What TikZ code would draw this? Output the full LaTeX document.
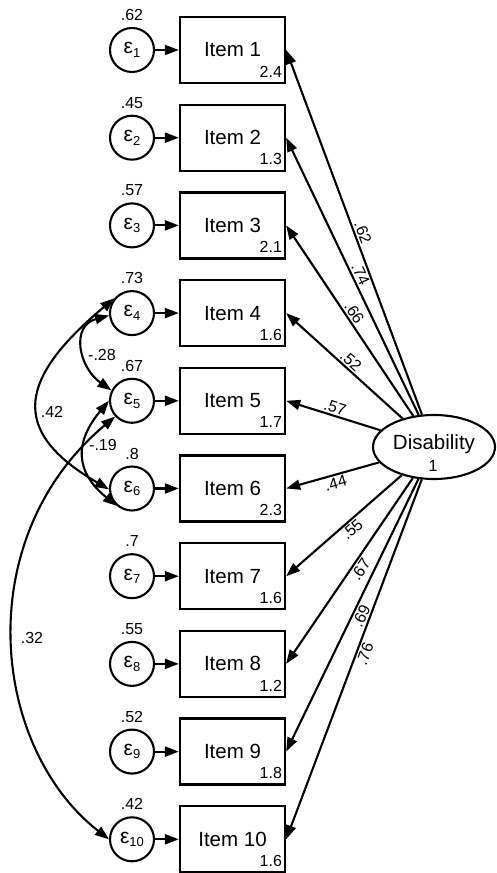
\documentclass[tikz,border=0pt]{standalone}
\usepackage{fontspec}
\setmainfont{Liberation Sans}
\usetikzlibrary{arrows.meta,shapes.geometric}
\newcommand\myeps[1]{{\fontsize{21}{21}\selectfont ε}\raisebox{-3.5pt}{\fontsize{13}{13}\selectfont #1}}
\begin{document}
\begin{tikzpicture}[x=1pt,y=1pt,
  itembox/.style={draw, line width=2.3pt, minimum width=105pt, minimum height=66pt, inner sep=0pt, font=\fontsize{20.5}{20.5}\selectfont},
  errc/.style={draw, circle, line width=2.1pt, minimum size=44pt, inner sep=0pt},
  small/.style={font=\fontsize{16}{16}\selectfont, inner sep=0pt},
  arr/.style={line width=2.1pt, -{Triangle[length=14pt,width=10pt]}},
  cov/.style={line width=2.1pt, {Triangle[length=14pt,width=10pt]}-{Triangle[length=14pt,width=10pt]}},
  lab/.style={font=\fontsize{16}{16}\selectfont, inner sep=1.5pt},
  big/.style={font=\fontsize{20.5}{20.5}\selectfont, inner sep=0pt}
]
\fill[white] (0,0) rectangle (496,873);
\useasboundingbox (0,0) rectangle (496,873);

\foreach \k/\v/\c in {1/.62/2.4, 2/.45/1.3, 3/.57/2.1, 4/.73/1.6, 5/.67/1.7, 6/.8/2.3, 7/.7/1.6, 8/.55/1.2, 9/.52/1.8, 10/.42/1.6} {
  \pgfmathsetmacro\yy{823-(\k-1)*87.7}
  \node[itembox] (i\k) at (232.5,\yy) {Item \k};
  \node[errc] (e\k) at (132,\yy) {\myeps{\k}};
  \node[small] (v\k) at (132,\yy+35) {\v};
  \node[small, anchor=base east] (c\k) at ([xshift=-4pt,yshift=7pt]i\k.south east) {\c};
  \draw[arr] (e\k) -- (i\k);
}

\node[draw, ellipse, line width=2.1pt, minimum width=122pt, minimum height=64pt, inner sep=0pt] (dis) at (434,426) {};
\node[big] (dt) at (434,429) {Disability};
\node[small] (d1) at (433,407) {1};

\foreach \k/\l/\p/\s in {1/.62/.467/above, 2/.74/.454/above, 3/.66/.414/above, 4/.52/.40/above, 5/.57/.315/above, 6/.44/.32/below, 7/.55/.41/below, 8/.67/.456/below, 9/.69/.457/below, 10/.76/.48/below} {
  \draw[arr] (dis) -- (i\k.east);
  \path (i\k.east) -- (dis.center) node[lab, pos=\p, sloped, \s=1pt] (L\k) {\l};
}

\draw[cov] (e4.186) to[out=195, in=145, distance=40pt] (e5.153);
\draw[cov] (e4.140) to[out=220, in=150, distance=120pt] (e6.182);
\draw[cov] (e5.180) to[out=230, in=141, distance=54pt] (e6.229);
\draw[cov] (e5.223) to[out=220, in=142, out distance=190pt, in distance=150pt] (e10.180);

\node[lab] (k28) at (102,518) {-.28};
\node[lab] (k42) at (52,461) {.42};
\node[lab] (k19) at (103,428) {-.19};
\node[lab] (k32) at (32,235) {.32};
\end{tikzpicture}
\end{document}
